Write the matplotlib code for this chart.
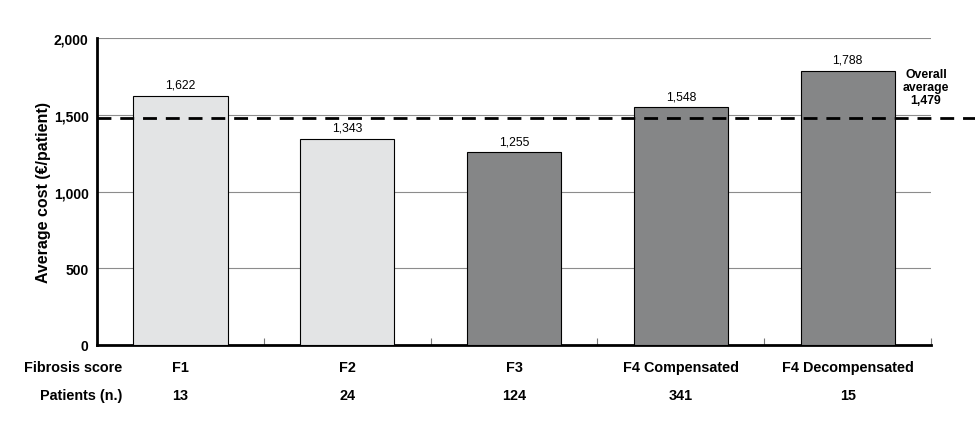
import matplotlib
matplotlib.use('Agg')
import matplotlib.pyplot as plt
import numpy as np

# ── Datos ────────────────────────────────────────────────────────────────────
categorias = ['F1', 'F2', 'F3', 'F4 Compensated', 'F4 Decompensated']
pacientes = [13, 24, 124, 341, 15]
coste_medio = [1622, 1343, 1255, 1548, 1788]
media_global = 1479
grupo_claro = [True, True, False, False, False]

C_CLARO = '#e3e4e5'
C_OSCURO = '#858687'

plt.rcParams.update({
    'font.family': ['Liberation Sans', 'DejaVu Sans'],
    'font.size': 10,
})

fig = plt.figure(figsize=(9.75, 4.35), dpi=100)
ax = fig.add_axes([0.0995, 0.2046, 0.8555, 0.7054])

x = np.arange(len(categorias))
colores = [C_CLARO if c else C_OSCURO for c in grupo_claro]
ax.bar(x, coste_medio, width=0.565, color=colores, edgecolor='black',
       linewidth=0.8, zorder=3)

for xi, v in zip(x, coste_medio):
    ax.text(xi, v + 35, f'{v:,}', ha='center', va='bottom', fontsize=8.8, zorder=5)

# línea de media global (sale del área de ejes por la derecha)
ax.plot([-0.5, 4.78], [media_global, media_global], color='black', lw=2,
        ls=(0, (5, 3.2)), clip_on=False, zorder=4)
ax.text(4.47, 1555, f'Overall\naverage\n{media_global:,}', ha='center',
        va='bottom', fontsize=8.8, fontweight='bold', linespacing=1.15)

ax.set_xlim(-0.5, 4.5)
ax.set_ylim(0, 2000)
ax.set_yticks([0, 500, 1000, 1500, 2000])
ax.set_yticklabels([f'{t:,}' for t in [0, 500, 1000, 1500, 2000]],
                   fontweight='bold', fontsize=10)
ax.tick_params(axis='y', length=0, pad=6)
ax.yaxis.grid(True, color='#8c8c8c', lw=0.8, zorder=0)
ax.set_axisbelow(True)

ax.set_xticks(np.arange(0.5, 5, 1))
ax.set_xticklabels([])
ax.tick_params(axis='x', direction='in', length=5, width=0.8, color='#777777')

for s in ['top', 'right']:
    ax.spines[s].set_visible(False)
for s in ['left', 'bottom']:
    ax.spines[s].set_linewidth(2)

ax.set_ylabel('Average cost (€/patient)', fontweight='bold', fontsize=11.5,
              labelpad=2)

# filas de etiquetas inferiores
trans = ax.get_xaxis_transform()
ax.text(-0.35, -0.0705, 'Fibrosis score', transform=trans, ha='right',
        va='center', fontweight='bold', fontsize=10.4)
ax.text(-0.35, -0.1645, 'Patients (n.)', transform=trans, ha='right',
        va='center', fontweight='bold', fontsize=10.4)
for xi, cat, n in zip(x, categorias, pacientes):
    ax.text(xi, -0.0705, cat, transform=trans, ha='center', va='center',
            fontweight='bold', fontsize=10.4)
    ax.text(xi, -0.1645, str(n), transform=trans, ha='center', va='center',
            fontweight='bold', fontsize=10.4)

fig.savefig('out.png', dpi=100)
